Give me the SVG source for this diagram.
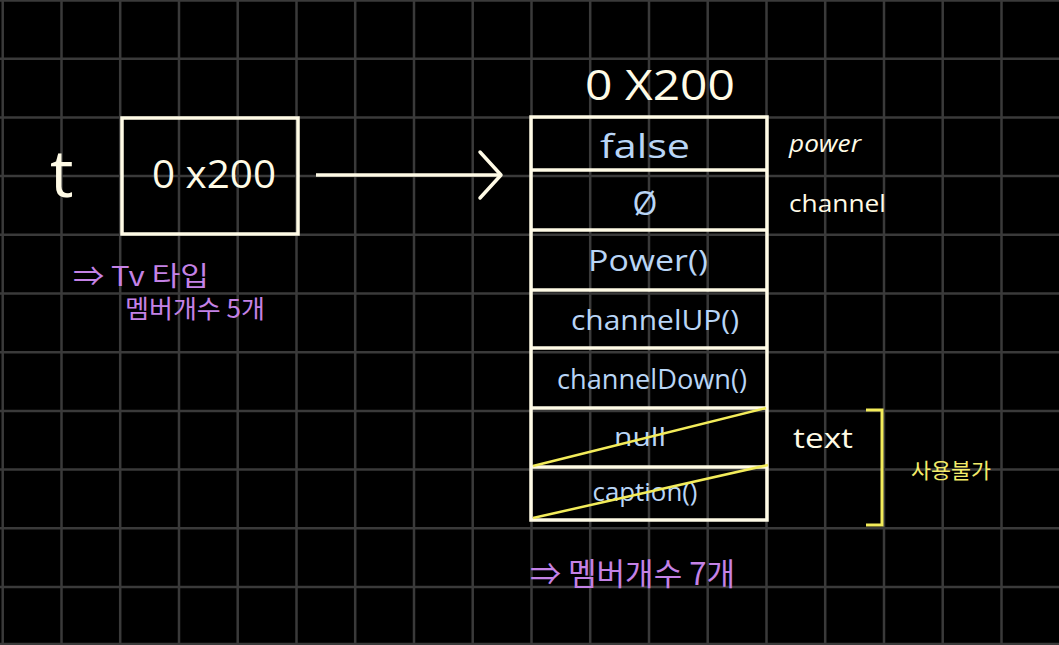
<svg xmlns="http://www.w3.org/2000/svg" width="1059" height="645" viewBox="0 0 1059 645">
<defs>
<style>
.grid line{stroke:#3a3a3a;stroke-width:2.5}
.box{fill:none;stroke:#fffbe6;stroke-width:3.5}
.w{fill:#fffbe6;font-family:"Open Sans","Noto Sans",sans-serif}
.b{fill:#b9d5f6;font-family:"Open Sans","Noto Sans",sans-serif;text-anchor:middle}
.p{fill:#c482e6;font-family:"Noto Sans CJK KR","Noto Sans",sans-serif}
.y{fill:#f3ec6a;font-family:"Noto Sans CJK KR",sans-serif}
.strike{stroke:#f3ec5a;stroke-width:2.5;fill:none}
</style>
</defs>
<rect width="1059" height="645" fill="#000"/>
<g class="grid">
<line x1="2.7" y1="0" x2="2.7" y2="645"/><line x1="61.5" y1="0" x2="61.5" y2="645"/><line x1="120.2" y1="0" x2="120.2" y2="645"/><line x1="179" y1="0" x2="179" y2="645"/><line x1="237.7" y1="0" x2="237.7" y2="645"/><line x1="296.5" y1="0" x2="296.5" y2="645"/><line x1="355.2" y1="0" x2="355.2" y2="645"/><line x1="414" y1="0" x2="414" y2="645"/><line x1="472.7" y1="0" x2="472.7" y2="645"/><line x1="531.5" y1="0" x2="531.5" y2="645"/><line x1="590.2" y1="0" x2="590.2" y2="645"/><line x1="649" y1="0" x2="649" y2="645"/><line x1="707.7" y1="0" x2="707.7" y2="645"/><line x1="766.5" y1="0" x2="766.5" y2="645"/><line x1="825.2" y1="0" x2="825.2" y2="645"/><line x1="884" y1="0" x2="884" y2="645"/><line x1="942.7" y1="0" x2="942.7" y2="645"/><line x1="1001.5" y1="0" x2="1001.5" y2="645"/>
<line x1="0" y1="0.5" x2="1059" y2="0.5"/><line x1="0" y1="58.7" x2="1059" y2="58.7"/><line x1="0" y1="117.4" x2="1059" y2="117.4"/><line x1="0" y1="176.1" x2="1059" y2="176.1"/><line x1="0" y1="234.8" x2="1059" y2="234.8"/><line x1="0" y1="293.5" x2="1059" y2="293.5"/><line x1="0" y1="352.2" x2="1059" y2="352.2"/><line x1="0" y1="410.9" x2="1059" y2="410.9"/><line x1="0" y1="469.6" x2="1059" y2="469.6"/><line x1="0" y1="528.3" x2="1059" y2="528.3"/><line x1="0" y1="587" x2="1059" y2="587"/><line x1="0" y1="644" x2="1059" y2="644"/>
</g>
<g id="var-t">
<text class="w" x="50" y="197" font-size="66">t</text>
<rect class="box" x="122" y="118" width="176" height="116"/>
<text class="w" x="152" y="188" font-size="38" textLength="124" lengthAdjust="spacingAndGlyphs">0 x200</text>
<text class="p" x="73" y="286" font-size="27" textLength="136" lengthAdjust="spacingAndGlyphs">⇒ Tv 타입</text>
<text class="p" x="125" y="318" font-size="25" textLength="140" lengthAdjust="spacingAndGlyphs">멤버개수 5개</text>
</g>
<g id="connectors">
<line x1="316" y1="175" x2="500" y2="175" stroke="#fffbe6" stroke-width="3.5"/>
<polyline points="480,152 501,175 480,198" fill="none" stroke="#fffbe6" stroke-width="3.5" stroke-linecap="round" stroke-linejoin="round"/>
</g>
<g id="object">
<text class="w" x="585" y="100" font-size="42" textLength="150" lengthAdjust="spacingAndGlyphs">0 X200</text>
<rect class="box" x="531" y="117" width="236" height="403"/>
<line class="box" x1="531" y1="170" x2="767" y2="170"/>
<line class="box" x1="531" y1="230" x2="767" y2="230"/>
<line class="box" x1="531" y1="290" x2="767" y2="290"/>
<line class="box" x1="531" y1="348" x2="767" y2="348"/>
<line class="box" x1="531" y1="408" x2="767" y2="408"/>
<line class="box" x1="531" y1="467" x2="767" y2="467"/>
<text class="b" x="645" y="158" font-size="32" textLength="90" lengthAdjust="spacingAndGlyphs">false</text>
<text class="b" x="645" y="215" font-size="32">Ø</text>
<text class="b" x="648" y="271" font-size="30" textLength="120" lengthAdjust="spacingAndGlyphs">Power()</text>
<text class="b" x="655" y="330" font-size="28" textLength="168" lengthAdjust="spacingAndGlyphs">channelUP()</text>
<text class="b" x="652" y="389" font-size="28" textLength="190" lengthAdjust="spacingAndGlyphs">channelDown()</text>
<text class="b" x="640" y="446" font-size="26" textLength="52" lengthAdjust="spacingAndGlyphs">null</text>
<text class="b" x="645" y="501" font-size="26" textLength="105" lengthAdjust="spacingAndGlyphs">caption()</text>
<line class="strike" x1="533" y1="466" x2="766" y2="408"/>
<line class="strike" x1="533" y1="518" x2="768" y2="465"/>
<text class="w" x="789" y="152" font-size="24" font-style="italic" textLength="72" lengthAdjust="spacingAndGlyphs">power</text>
<text class="w" x="789" y="212" font-size="24" textLength="97" lengthAdjust="spacingAndGlyphs">channel</text>
<text class="w" x="793" y="448" font-size="28" textLength="60" lengthAdjust="spacingAndGlyphs">text</text>
<polyline points="866,410 882,410 882,525 866,525" fill="none" stroke="#f3ec5a" stroke-width="3"/>
<text class="y" x="911" y="478" font-size="21" textLength="80" lengthAdjust="spacingAndGlyphs">사용불가</text>
<text class="p" x="530" y="585" font-size="31" textLength="205" lengthAdjust="spacingAndGlyphs">⇒ 멤버개수 7개</text>
</g>
</svg>
